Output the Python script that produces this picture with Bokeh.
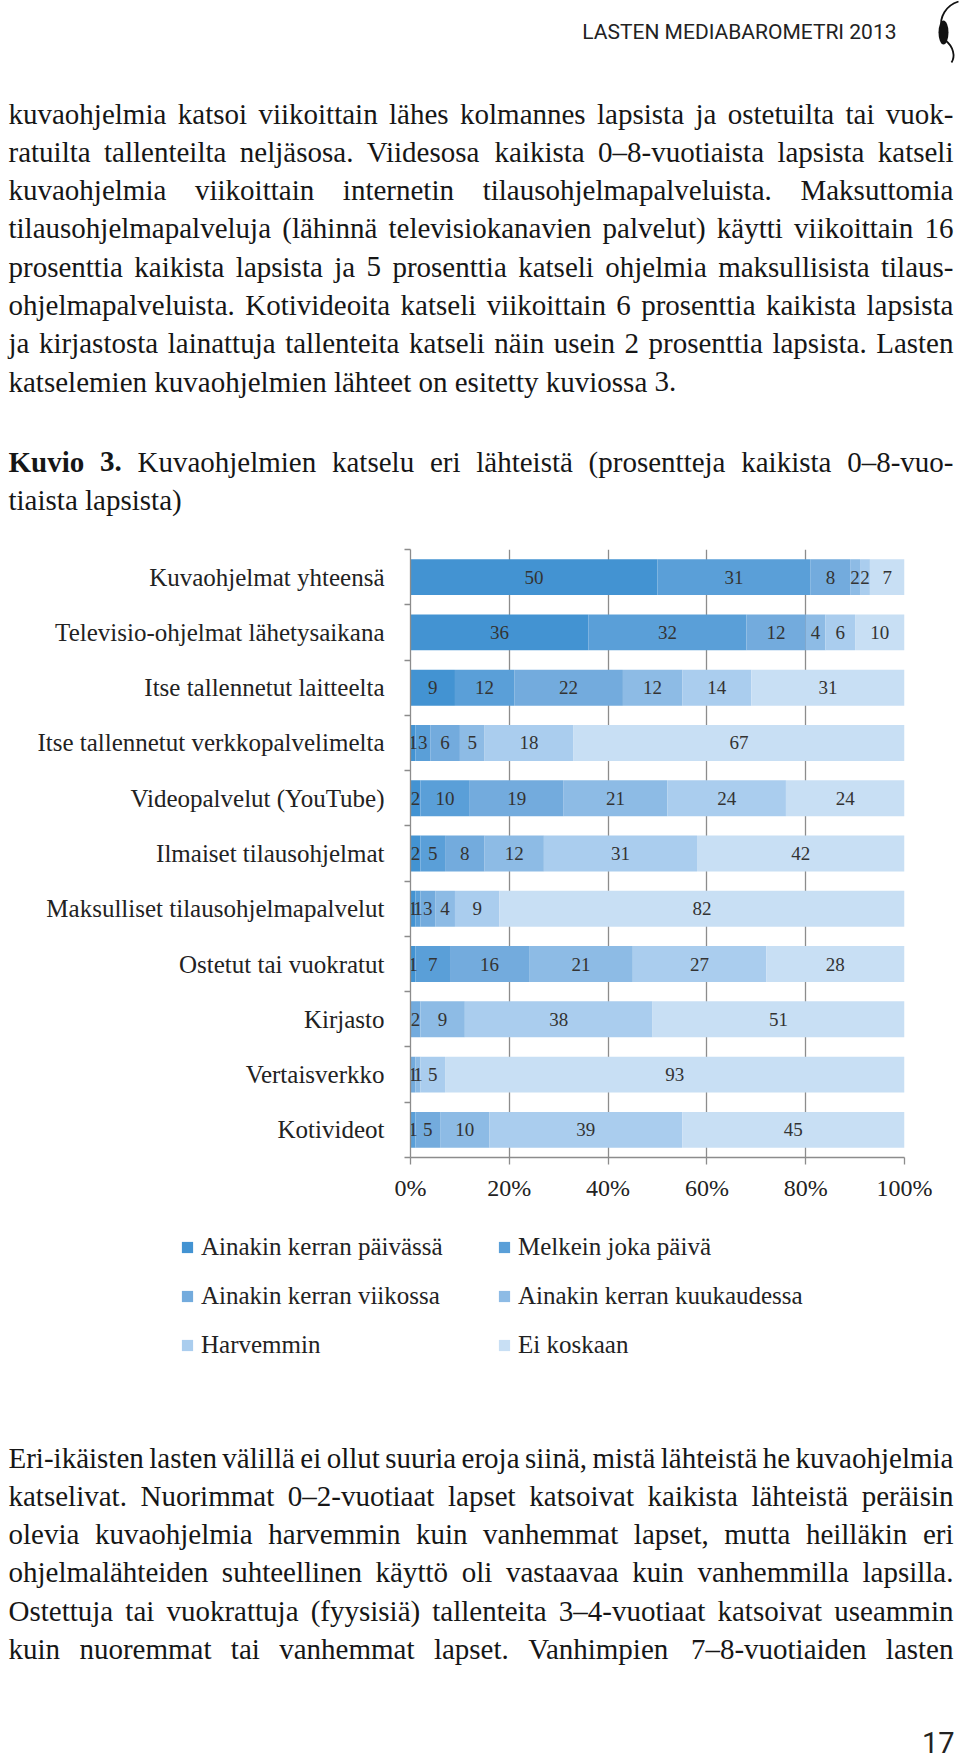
from bokeh.plotting import figure
from bokeh.models import (Range1d, ColumnDataSource, FixedTicker, Legend, LegendItem,
                          PrintfTickFormatter)
from bokeh.embed import file_html
from bokeh.resources import INLINE
from bokeh.core.properties import value, field

# ---------------- data ----------------
categories = [
    "Kuvaohjelmat yhteensä",
    "Televisio-ohjelmat lähetysaikana",
    "Itse tallennetut laitteelta",
    "Itse tallennetut verkkopalvelimelta",
    "Videopalvelut (YouTube)",
    "Ilmaiset tilausohjelmat",
    "Maksulliset tilausohjelmapalvelut",
    "Ostetut tai vuokratut",
    "Kirjasto",
    "Vertaisverkko",
    "Kotivideot",
]
series_names = [
    "Ainakin kerran päivässä",
    "Melkein joka päivä",
    "Ainakin kerran viikossa",
    "Ainakin kerran kuukaudessa",
    "Harvemmin",
    "Ei koskaan",
]
paivassa = [50, 36, 9, 1, 2, 2, 1, 1, 0, 0, 0]
melkein = [31, 32, 12, 3, 10, 5, 1, 7, 0, 0, 1]
viikossa = [8, 12, 22, 6, 19, 8, 3, 16, 2, 1, 5]
kuukaudessa = [2, 4, 12, 5, 21, 12, 4, 21, 9, 1, 10]
harvemmin = [2, 6, 14, 18, 24, 31, 9, 27, 38, 5, 39]
ei_koskaan = [7, 10, 31, 67, 24, 42, 82, 28, 51, 93, 45]
x_ticks = [0, 20, 40, 60, 80, 100]

header_text = "LASTEN MEDIABAROMETRI 2013"
page_number = "17"
para_top = [
    "kuvaohjelmia katsoi viikoittain lähes kolmannes lapsista ja ostetuilta tai vuok-",
    "ratuilta tallenteilta neljäsosa. Viidesosa kaikista 0–8-vuotiaista lapsista katseli",
    "kuvaohjelmia viikoittain internetin tilausohjelmapalveluista. Maksuttomia",
    "tilausohjelmapalveluja (lähinnä televisiokanavien palvelut) käytti viikoittain 16",
    "prosenttia kaikista lapsista ja 5 prosenttia katseli ohjelmia maksullisista tilaus-",
    "ohjelmapalveluista. Kotivideoita katseli viikoittain 6 prosenttia kaikista lapsista",
    "ja kirjastosta lainattuja tallenteita katseli näin usein 2 prosenttia lapsista. Lasten",
    "katselemien kuvaohjelmien lähteet on esitetty kuviossa 3.",
]
caption = [
    "Kuvio 3. Kuvaohjelmien katselu eri lähteistä (prosentteja kaikista 0–8-vuo-",
    "tiaista lapsista)",
]
para_bottom = [
    "Eri-ikäisten lasten välillä ei ollut suuria eroja siinä, mistä lähteistä he kuvaohjelmia",
    "katselivat. Nuorimmat 0–2-vuotiaat lapset katsoivat kaikista lähteistä peräisin",
    "olevia kuvaohjelmia harvemmin kuin vanhemmat lapset, mutta heilläkin eri",
    "ohjelmalähteiden suhteellinen käyttö oli vastaavaa kuin vanhemmilla lapsilla.",
    "Ostettuja tai vuokrattuja (fyysisiä) tallenteita 3–4-vuotiaat katsoivat useammin",
    "kuin nuoremmat tai vanhemmat lapset. Vanhimpien 7–8-vuotiaiden lasten",
]

# ---------------- styles ----------------
COLORS = ["#4393d2", "#5a9fd8", "#73abdd", "#8dbbe5", "#aacdee", "#c8dff4"]
SERIF = "Liberation Serif"
TXT = "#161616"
AXIS_GRAY = "#8c8c8c"
W = 960
TEXT_LEFT, TEXT_RIGHT = 8, 953

# Times / Liberation Serif advance widths (1/1000 em)
_REG = {}
for chars, w in [("bdghknopquvxyö0123456789–", 500), ("aceäåz", 444), ("ijlt", 278),
                 ("fr-()", 333), ("s", 389), ("m", 778), ("w", 722), (" .,", 250),
                 ("ADGHKNOQUVXY", 722), ("BCR", 667), ("ELTZ", 611), ("FPS", 556),
                 ("I", 333), ("J", 389), ("M", 889), ("W", 944), ("%", 833)]:
    for c in chars:
        _REG[c] = w
_BOLD = dict(_REG)
_BOLD.update({"K": 778, "u": 556})


def word_em(t, bold):
    tab = _BOLD if bold else _REG
    return sum(tab.get(c, 500) for c in t) / 1000.0


def set_lines(lines, base_y, step, fs, justify_last, bold_first=0):
    xs, ys, texts, styles = [], [], [], []
    for li, line in enumerate(lines):
        words = line.split(" ")
        bolds = [(li == 0 and wi < bold_first) for wi in range(len(words))]
        widths = [word_em(w, b) * fs for w, b in zip(words, bolds)]
        justify = (li < len(lines) - 1) or justify_last
        if justify and len(words) > 1:
            gap = (TEXT_RIGHT - TEXT_LEFT - sum(widths)) / (len(words) - 1)
        else:
            gap = 0.25 * fs
        x = float(TEXT_LEFT)
        for w, b, wd in zip(words, bolds, widths):
            xs.append(x)
            ys.append(base_y + li * step)
            texts.append(w)
            styles.append("bold" if b else "normal")
            x += wd + gap
    return dict(x=xs, y=ys, text=texts, style=styles)


def text_fig(h):
    f = figure(width=W, height=h, x_range=Range1d(0, W), y_range=Range1d(h, 0),
               x_axis_type=None, y_axis_type=None, min_border=0,
               output_backend="svg", toolbar_location=None)
    f.outline_line_color = None
    f.grid.visible = False
    return f


FS = 29

# ---------------- top text figure (page y 0..528) ----------------
H1 = 528
top = text_fig(H1)
top.text(x=[896], y=[31], text=[header_text], text_font=value("Roboto"),
         text_font_size="21px", text_align="right", text_baseline="alphabetic",
         text_color="#222222")
# logo
top.bezier(x0=[958], y0=[1], x1=[941], y1=[27], cx0=[945], cy0=[5], cx1=[939], cy1=[17],
           line_color="#111111", line_width=1.8)
top.ellipse(x=[943], y=[32], width=[10], height=[24], fill_color="#111111", line_color=None)
top.bezier(x0=[945], y0=[40], x1=[951], y1=[62], cx0=[953], cy0=[46], cx1=[955], cy1=[56],
           line_color="#111111", line_width=1.8)

src_top = ColumnDataSource(set_lines(para_top, 113, 38.3, FS, False))
top.text(x="x", y="y", text="text", source=src_top, text_font=value(SERIF),
         text_font_size=f"{FS}px", text_baseline="alphabetic", text_color=TXT)
src_cap = ColumnDataSource(set_lines(caption, 461, 38.3, FS, False, bold_first=2))
top.text(x="x", y="y", text="text", source=src_cap, text_font=value(SERIF),
         text_font_style=field("style"), text_font_size=f"{FS}px",
         text_baseline="alphabetic", text_color=TXT)

# ---------------- chart figure (page y 528..1223) ----------------
H2 = 695
n = len(categories)
yc = [i + 1 for i in range(n)]
p = figure(width=W, height=H2, x_range=Range1d(0, 100), y_range=Range1d(n + 0.5, 0.5),
           output_backend="svg", toolbar_location=None,
           min_border_left=410, min_border_right=56, min_border_top=21, min_border_bottom=66)
p.outline_line_color = None

series = [paivassa, melkein, viikossa, kuukaudessa, harvemmin, ei_koskaan]
left = [0.0] * n
lab_x, lab_y, lab_t = [], [], []
for vals, col in zip(series, COLORS):
    right = [l + v for l, v in zip(left, vals)]
    src = ColumnDataSource(dict(y=yc, left=left, right=right))
    p.hbar(y="y", left="left", right="right", height=0.65, source=src,
           fill_color=col, line_color=None)
    for i, v in enumerate(vals):
        if v > 0:
            lab_x.append(left[i] + v / 2.0)
            lab_y.append(yc[i])
            lab_t.append(str(v))
    left = right

p.text(x=lab_x, y=lab_y, text=lab_t, text_align="center", text_baseline="middle",
       text_font=value(SERIF), text_font_size="19px", text_color="#333333")

# x axis
p.xaxis.ticker = FixedTicker(ticks=x_ticks)
p.xaxis.formatter = PrintfTickFormatter(format="%d%%")
p.xaxis.axis_line_color = AXIS_GRAY
p.xaxis.axis_line_width = 1.3
p.xaxis.major_tick_line_color = AXIS_GRAY
p.xaxis.major_tick_line_width = 1.3
p.xaxis.major_tick_out = 7
p.xaxis.major_tick_in = 0
p.xaxis.minor_tick_line_color = None
p.xaxis.major_label_text_font = SERIF
p.xaxis.major_label_text_font_size = "24px"
p.xaxis.major_label_text_color = "#222222"
p.xaxis.major_label_standoff = 10

# y axis (labels at centres, ticks at category boundaries)
p.yaxis.ticker = FixedTicker(ticks=yc, minor_ticks=[i + 0.5 for i in range(n + 1)])
p.yaxis.major_label_overrides = {y: c for y, c in zip(yc, categories)}
p.yaxis.axis_line_color = AXIS_GRAY
p.yaxis.axis_line_width = 1.3
p.yaxis.major_tick_line_color = None
p.yaxis.major_tick_out = 0
p.yaxis.major_tick_in = 0
p.yaxis.minor_tick_line_color = AXIS_GRAY
p.yaxis.minor_tick_line_width = 1.3
p.yaxis.minor_tick_out = 6
p.yaxis.minor_tick_in = 0
p.yaxis.major_label_text_font = SERIF
p.yaxis.major_label_text_font_size = "25px"
p.yaxis.major_label_text_color = "#222222"
p.yaxis.major_label_standoff = 20

p.xgrid.grid_line_color = AXIS_GRAY
p.xgrid.grid_line_width = 1.3
p.ygrid.grid_line_color = None

# ---------------- legend figure (page y 1223..1400) ----------------
H_LEG = 177
leg = figure(width=W, height=H_LEG, x_range=Range1d(0, 1), y_range=Range1d(0, 1),
             x_axis_type=None, y_axis_type=None, min_border=0,
             output_backend="svg", toolbar_location=None)
leg.outline_line_color = None
leg.grid.visible = False
leg_items = []
for nm, col in zip(series_names, COLORS):
    # swatch source only: a zero-width bar, nothing is drawn in the plot area
    r = leg.hbar(y=[0.5], left=[0], right=[0], height=0.0, fill_color=col, line_color=None)
    leg_items.append(LegendItem(label=nm, renderers=[r]))
legend = Legend(
    items=leg_items, orientation="horizontal", ncols=2, location=(180, 41),
    glyph_width=14, glyph_height=14, label_standoff=7,
    label_width=275, label_height=28, spacing=21, padding=0, margin=0,
    border_line_color=None, background_fill_alpha=0,
    label_text_font=SERIF, label_text_font_size="25px", label_text_color="#222222",
)
leg.add_layout(legend, "center")

# ---------------- bottom text figure (page y 1400..1761) ----------------
H3 = 361
bot = text_fig(H3)
src_bot = ColumnDataSource(set_lines(para_bottom, 57, 38.3, FS, True))
bot.text(x="x", y="y", text="text", source=src_bot, text_font=value(SERIF),
         text_font_size=f"{FS}px", text_baseline="alphabetic", text_color=TXT)
bot.text(x=[954], y=[342], text=[page_number], text_font=value("Roboto"),
         text_font_size="29px", text_align="right", text_baseline="alphabetic",
         text_color="#222222")

open("out.html", "w").write(file_html([top, p, leg, bot], INLINE))
